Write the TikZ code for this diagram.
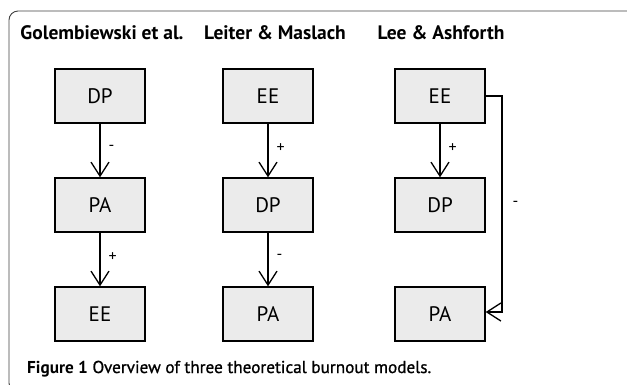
\documentclass[tikz,border=0pt]{standalone}
\usepackage{fontspec}
\setmainfont{PT Sans}
\usetikzlibrary{arrows.meta}
\begin{document}
\begin{tikzpicture}[x=1pt,y=-1pt,
  box/.style={draw=black,line width=1.4pt,fill=black!8,minimum width=90pt,minimum height=54pt,inner sep=0pt,font=\fontsize{21}{21}\selectfont},
  ttl/.style={font=\bfseries\fontsize{19.5}{19.5}\selectfont,inner sep=0pt},
  lbl/.style={font=\fontsize{16}{16}\selectfont,inner sep=0pt},
  link/.style={line width=1.3pt,-{Straight Barb[length=14pt,width=18pt,line width=1.3pt]}}]
\useasboundingbox (0,0) rectangle (627,384);
\begin{scope}
\clip (0,0) rectangle (627,384);
\draw[line width=0.9pt,draw=black!75,rounded corners=9pt] (9,11) rectangle (636,392);
\end{scope}
\node[ttl] (t1) at (102,33) {Golembiewski et al.};
\node[ttl] (t2) at (275,33) {Leiter \& Maslach};
\node[ttl] (t3) at (441,33) {Lee \& Ashforth};
\node[box] (a1) at (100,96) {DP};
\node[box] (a2) at (100,205) {PA};
\node[box] (a3) at (100,314) {EE};
\node[box] (b1) at (268,96) {EE};
\node[box] (b2) at (268,205) {DP};
\node[box] (b3) at (268,314) {PA};
\node[box] (c1) at (440,96) {EE};
\node[box] (c2) at (440,205) {DP};
\node[box] (c3) at (440,314) {PA};
\draw[link] (a1) -- node[lbl,pos=0.45,right=8pt]{-} (a2);
\draw[link] (a2) -- node[lbl,pos=0.45,right=8pt]{+} (a3);
\draw[link] (b1) -- node[lbl,pos=0.45,right=8pt]{+} (b2);
\draw[link] (b2) -- node[lbl,pos=0.45,right=8pt]{-} (b3);
\draw[link] (c1) -- node[lbl,pos=0.45,right=8pt]{+} (c2);
\coordinate (r1) at (502,96);
\coordinate (r2) at (502,312);
\draw[link] (c1.east |- r1) -- (r1) -- node[lbl,right=10pt]{-} (r2) -- (c3.east |- r2);
\node[anchor=base west,inner sep=0pt,font=\fontsize{17.2}{17.2}\selectfont] (cap) at (27,373) {\textbf{Figure 1} \addfontfeature{FakeBold=1}Overview of three theoretical burnout models.};
\end{tikzpicture}
\end{document}
